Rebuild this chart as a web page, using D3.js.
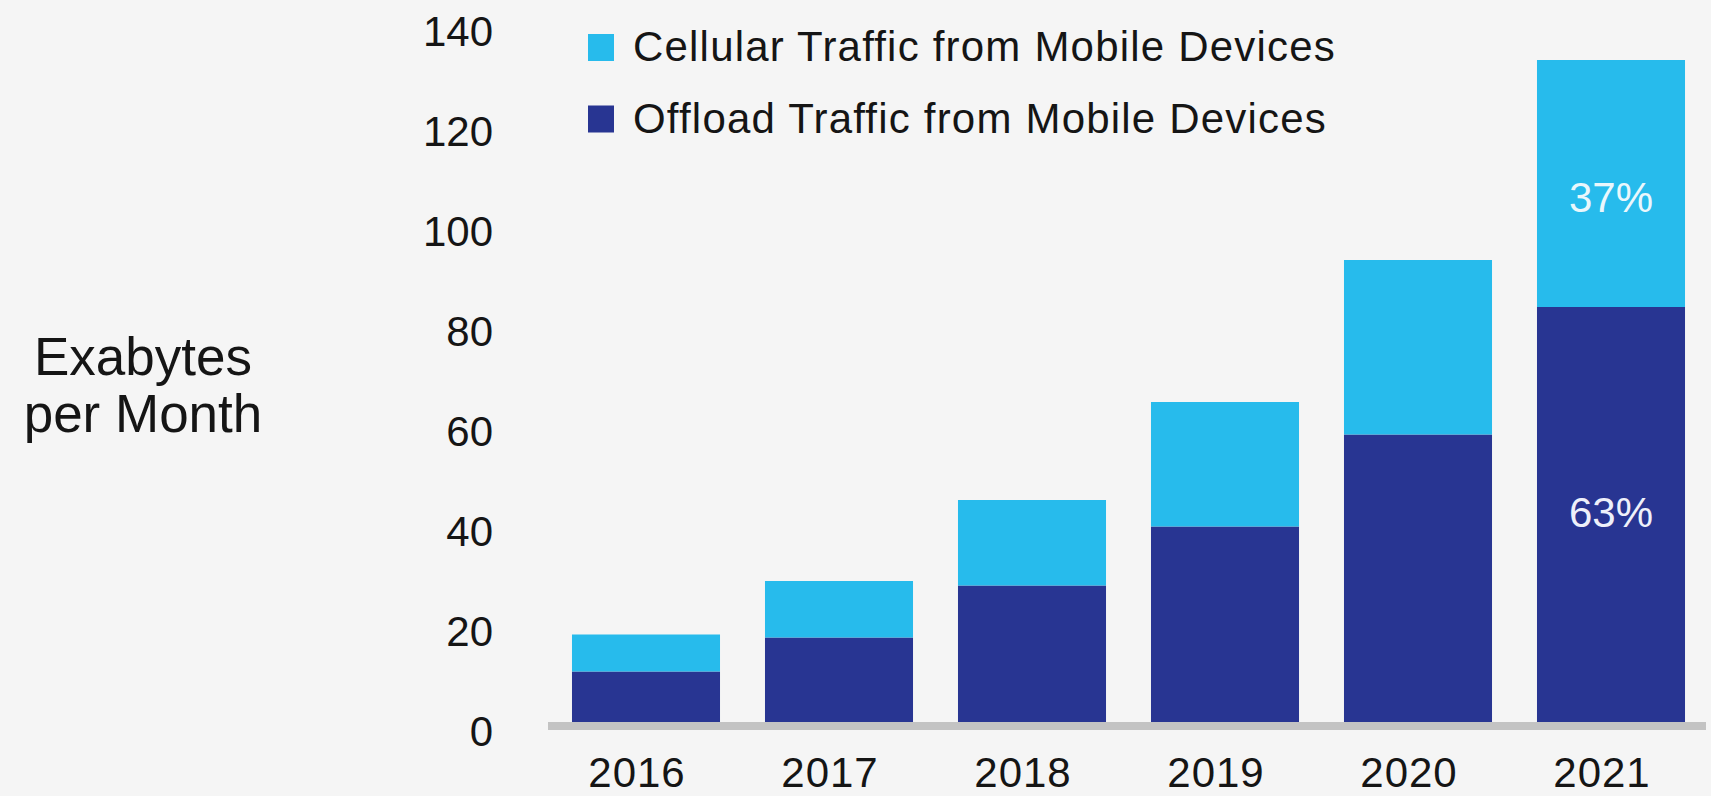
<!DOCTYPE html>
<html>
<head>
<meta charset="utf-8">
<script src="https://cdn.jsdelivr.net/npm/d3@7"></script>
<style>
  html, body { margin: 0; padding: 0; background: #f5f5f5; }
  svg { display: block; }
  text { font-family: "Liberation Sans", Arial, Helvetica, sans-serif; fill: #151515; }
</style>
</head>
<body>
<svg id="chart" width="1711" height="796"></svg>
<script>
// Monthly traffic, exabytes per month
const years = ["2016", "2017", "2018", "2019", "2020", "2021"];
const offload = [10.9, 17.7, 28.1, 39.9, 58.3, 83.8];
const cellular = [7.4, 11.3, 17.1, 24.9, 34.9, 49.4];
const yTicks = [0, 20, 40, 60, 80, 100, 120, 140];
const seriesNames = ["Cellular Traffic from Mobile Devices", "Offload Traffic from Mobile Devices"];
const seriesColors = ["#27bbec", "#283592"];

const W = 1711, H = 796;
const svg = d3.select("#chart");
svg.append("rect").attr("width", W).attr("height", H).attr("fill", "#f5f5f5");

const x = d3.scaleBand()
  .domain(years)
  .range([549.5, 1707.5])
  .paddingInner(0.233)
  .paddingOuter(0.1165);

const y = d3.scaleLinear().domain([0, 140]).range([726, 26]);

// stacked rows: offload at bottom, cellular on top
const rows = years.map((yr, i) => ({ year: yr, offload: offload[i], cellular: cellular[i] }));
const stack = d3.stack().keys(["offload", "cellular"]);
const layers = stack(rows);
const layerColor = { offload: seriesColors[1], cellular: seriesColors[0] };

const gBars = svg.append("g");
layers.forEach(layer => {
  gBars.selectAll(null)
    .data(layer)
    .join("rect")
    .attr("x", d => x(d.data.year))
    .attr("width", x.bandwidth())
    .attr("y", d => y(d[1]))
    .attr("height", d => y(d[0]) - y(d[1]))
    .attr("fill", layerColor[layer.key]);
});

// baseline rule
svg.append("rect")
  .attr("x", x.range()[0] - 1.5)
  .attr("width", x.range()[1] - x.range()[0])
  .attr("y", y(0) - 4)
  .attr("height", 8)
  .attr("fill", "#c3c3c3");

// y axis
const yAxis = svg.append("g")
  .attr("transform", "translate(500,0)")
  .call(d3.axisLeft(y).tickValues(yTicks).tickSize(0).tickPadding(7));
yAxis.select(".domain").remove();
yAxis.selectAll("text")
  .attr("dy", "19px")
  .style("font-size", "42px")
  .style("font-family", "'Liberation Sans', Arial, sans-serif")
  .attr("fill", "#151515");

// x axis
const xAxis = svg.append("g")
  .attr("transform", `translate(0,${y(0)})`)
  .call(d3.axisBottom(x).tickSize(0));
xAxis.select(".domain").remove();
xAxis.selectAll("text")
  .attr("y", 0)
  .attr("dy", "61px")
  .attr("dx", "-9px")
  .style("font-size", "42px")
  .style("letter-spacing", "1px")
  .style("font-family", "'Liberation Sans', Arial, sans-serif")
  .attr("fill", "#151515");

// axis title
const title = svg.append("text")
  .attr("x", 143)
  .attr("text-anchor", "middle")
  .style("font-size", "53px");
title.append("tspan").attr("x", 143).attr("y", 375).text("Exabytes");
title.append("tspan").attr("x", 143).attr("y", 432).text("per Month");

// legend
const legend = svg.append("g");
seriesNames.forEach((name, i) => {
  const base = 61 + i * 71.5;
  legend.append("rect")
    .attr("x", 588).attr("y", base - 27)
    .attr("width", 26).attr("height", 27)
    .attr("fill", seriesColors[i]);
  legend.append("text")
    .attr("x", 633).attr("y", base)
    .style("font-size", "42px")
    .style("letter-spacing", "1.2px")
    .text(name);
});

// share labels on the last bar
const last = rows.length - 1;
const total = offload[last] + cellular[last];
const shareLabels = [
  { v0: offload[last], v1: total, pct: Math.round(cellular[last] / total * 100), color: "#eaf7fc", dy: 13 },
  { v0: 0, v1: offload[last], pct: Math.round(offload[last] / total * 100), color: "#eef0fa", dy: -5 }
];
svg.selectAll(".share")
  .data(shareLabels)
  .join("text")
  .attr("class", "share")
  .attr("x", x(years[last]) + x.bandwidth() / 2)
  .attr("y", d => (y(d.v0) + y(d.v1)) / 2 + d.dy + 15)
  .attr("text-anchor", "middle")
  .style("font-size", "42px")
  .style("fill", d => d.color)
  .text(d => d.pct + "%");
</script>
</body>
</html>
